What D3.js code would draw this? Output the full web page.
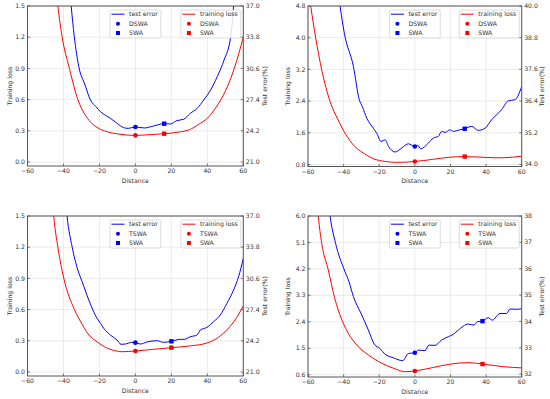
<!DOCTYPE html>
<html lang="en">
<head>
<meta charset="UTF-8">
<title>Loss and test error along distance</title>
<style>
    html, body { margin: 0; padding: 0; background: #fff; }
    svg { display: block; font-family: "DejaVu Sans", sans-serif; }
</style>
</head>
<body>
<svg id="chart" width="550" height="399"></svg>
<script src="https://cdnjs.cloudflare.com/ajax/libs/d3/7.8.5/d3.min.js"></script>
<script>
"use strict"

const distTicks = [-60, -40, -20, 0, 20, 40, 60];

// panel a (top left)
const aLossTicks = [0.0, 0.3, 0.6, 0.9, 1.2, 1.5];
const aErrTicks = [21.0, 24.2, 27.4, 30.6, 33.8, 37.0];
const aLoss = [[-45, 1.85], [-43.1, 1.5], [-40.7, 1.2], [-36.7, 0.9], [-32, 0.6], [-28, 0.455], [-25, 0.385], [-22, 0.34],
    [-19.4, 0.314], [-15, 0.287], [-10, 0.27], [-5, 0.26], [0, 0.256], [8, 0.263], [16, 0.272], [25, 0.29], [30, 0.31],
    [35, 0.36], [40, 0.42], [45, 0.53], [50, 0.68], [55, 0.9], [60, 1.2]];
const aErr = [[-37, 40], [-35.7, 37.0], [-34, 33.9], [-31.5, 30.8], [-28, 28.9], [-25, 27.36], [-22, 26.68], [-19.4, 26.16],
    [-13.9, 25.48], [-10.2, 24.97], [-6.5, 24.52], [-4, 24.45], [0, 24.59], [5, 24.49], [10, 24.69], [16, 24.93],
    [19.4, 24.9], [23, 25.24], [26.8, 25.38], [30.5, 25.99], [34.3, 26.5], [38, 27.36], [41.8, 28.38], [45.5, 29.75],
    [49.3, 31.46], [53, 33.85], [54.6, 37.0], [55.5, 40]];
const aLossMarks = [[0, 0.256], [16, 0.272]];
const aErrMarks = [[0, 24.59], [16, 24.93]];

// panel b (top right)
const bLossTicks = [0.8, 1.6, 2.4, 3.2, 4.0, 4.8];
const bErrTicks = [34.0, 35.2, 36.4, 37.6, 38.8, 40.0];
const bLoss = [[-60, 5.25], [-58.5, 4.8], [-55.7, 4.0], [-52.3, 3.19], [-47.6, 2.39], [-43, 1.92], [-39.2, 1.59],
    [-33.6, 1.25], [-28.9, 1.09], [-22.4, 0.93], [-17, 0.88], [-11, 0.855], [-5, 0.86], [0, 0.876], [10, 0.93],
    [20, 0.985], [27.8, 1.0], [35, 0.99], [45, 0.97], [50, 0.972], [60, 1.01]];
const bErr = [[-43, 40.5], [-42, 40], [-39.6, 38.97], [-34.5, 37.71], [-31.2, 36.45], [-29.5, 36.19], [-27, 35.75],
    [-23.3, 35.37], [-21.4, 35.18], [-19, 34.87], [-16.7, 34.93], [-14.8, 34.68], [-11, 34.47], [-7.4, 34.62],
    [-3.6, 34.78], [0, 34.68], [1.6, 34.72], [3.3, 34.59], [7.6, 34.81], [10.4, 35.0], [13.2, 35.06], [15, 35.25],
    [17, 35.21], [19.7, 35.31], [21.6, 35.25], [25.3, 35.31], [27.8, 35.35], [31.9, 35.44], [35.6, 35.29],
    [39.4, 35.37], [43.1, 35.69], [48.7, 36.07], [52.5, 36.41], [56.2, 36.45], [60, 36.95]];
const bLossMarks = [[0, 0.876], [28, 1.0]];
const bErrMarks = [[0, 34.68], [28, 35.35]];

// panel c (bottom left)
const cLossTicks = [0.0, 0.3, 0.6, 0.9, 1.2, 1.5];
const cErrTicks = [21.0, 24.2, 27.4, 30.6, 33.8, 37.0];
const cLoss = [[-46.5, 1.75], [-45.4, 1.5], [-43.1, 1.2], [-39.8, 0.9], [-33.9, 0.6], [-30, 0.47], [-26.5, 0.37],
    [-21.3, 0.29], [-15.7, 0.23], [-10, 0.2], [-7.4, 0.195], [0, 0.202], [10, 0.218], [20, 0.234], [30, 0.25],
    [40, 0.28], [45, 0.32], [50, 0.39], [55, 0.49], [60, 0.635]];
const cErr = [[-39, 39], [-38, 37], [-35.2, 33.85], [-32, 31.46], [-29.6, 30.26], [-25.9, 28.38], [-21.3, 26.5],
    [-19.4, 25.99], [-17.6, 25.48], [-13.9, 24.79], [-10.2, 24.28], [-8, 23.84], [-5.6, 23.87], [-1.9, 24.04],
    [0, 24.01], [2.8, 23.87], [6.5, 24.08], [12, 24.21], [15.7, 24.04], [20, 24.15], [25, 24.35], [27, 24.35],
    [30.6, 24.62], [34.3, 24.79], [36.1, 25.31], [39.8, 25.58], [43.5, 26.16], [47.2, 26.85], [50.9, 28.04],
    [54.6, 29.41], [57.4, 30.78], [60, 32.66]];
const cLossMarks = [[0, 0.202], [20, 0.234]];
const cErrMarks = [[0, 24.01], [20, 24.15]];

// panel d (bottom right)
const dLossTicks = [0.6, 1.5, 2.4, 3.3, 4.2, 5.1, 6.0];
const dErrTicks = [32, 33, 34, 35, 36, 37, 38];
const dLoss = [[-55, 6.6], [-54.2, 6.0], [-52.3, 5.07], [-48.6, 4.16], [-45.2, 3.25], [-40.2, 2.35], [-37.4, 2.01],
    [-31.7, 1.55], [-26.1, 1.27], [-18.6, 0.99], [-12.1, 0.82], [-5.5, 0.7], [0, 0.725], [10, 0.84], [20, 0.96],
    [30, 1.01], [38, 0.96], [50, 0.87], [60, 0.83]];
const dErr = [[-48.5, 38.5], [-47.6, 38], [-44.5, 36.96], [-39.6, 35.95], [-37, 35.51], [-34.5, 34.94], [-30.2, 34.3],
    [-26.1, 33.67], [-22.8, 33.14], [-19.6, 32.97], [-16.8, 32.76], [-12.1, 32.62], [-6.8, 32.51], [-3.7, 32.78],
    [0, 32.81], [1.9, 32.91], [5.7, 32.89], [7.9, 33.1], [11.3, 33.09], [15, 33.29], [18.8, 33.42], [21.6, 33.51],
    [24.4, 33.67], [30, 33.9], [33.2, 33.86], [35.1, 33.99], [38, 34.01], [41.2, 34.14], [43.5, 34.05], [47.8, 34.3],
    [51.5, 34.3], [53.4, 34.47], [57.2, 34.46], [60, 34.48]];
const dLossMarks = [[0, 0.725], [38, 0.96]];
const dErrMarks = [[0, 32.81], [38, 34.01]];

const panels = [
    {id: "a", x0: 27.5, x1: 243.3, y0: 6, y1: 166, lossDom: [-0.0385, 1.5], errDom: [20.59, 37.0],
        lossTicks: aLossTicks, errTicks: aErrTicks, errFmt: ".1f", loss: aLoss, err: aErr,
        lossMarks: aLossMarks, errMarks: aErrMarks, method: "DSWA", yl: 10, yr: 265},
    {id: "b", x0: 308, x1: 521.7, y0: 6, y1: 166.5, lossDom: [0.75, 4.8], errDom: [33.92, 40.0],
        lossTicks: bLossTicks, errTicks: bErrTicks, errFmt: ".1f", loss: bLoss, err: bErr,
        lossMarks: bLossMarks, errMarks: bErrMarks, method: "DSWA", yl: 288, yr: 542},
    {id: "c", x0: 27.5, x1: 243.3, y0: 216, y1: 376, lossDom: [-0.0385, 1.5], errDom: [20.59, 37.0],
        lossTicks: cLossTicks, errTicks: cErrTicks, errFmt: ".1f", loss: cLoss, err: cErr,
        lossMarks: cLossMarks, errMarks: cErrMarks, method: "TSWA", yl: 10, yr: 265},
    {id: "d", x0: 308, x1: 521.7, y0: 216, y1: 377, lossDom: [0.52, 6.0], errDom: [31.89, 38.0],
        lossTicks: dLossTicks, errTicks: dErrTicks, errFmt: "d", loss: dLoss, err: dErr,
        lossMarks: dLossMarks, errMarks: dErrMarks, method: "TSWA", yl: 288, yr: 542}
];

const svg = d3.select("#chart");
const spine = "#555";
const fs = 6.2;
const tickLen = 2.5;

function drawPanel(p) {
    const x = d3.scaleLinear().domain([-60, 60]).range([p.x0, p.x1]);
    const yL = d3.scaleLinear().domain(p.lossDom).range([p.y1, p.y0]);
    const yR = d3.scaleLinear().domain(p.errDom).range([p.y1, p.y0]);
    const g = svg.append("g");

    g.append("clipPath").attr("id", "clip-" + p.id)
        .append("rect")
        .attr("x", p.x0).attr("y", p.y0)
        .attr("width", p.x1 - p.x0).attr("height", p.y1 - p.y0);

    // grid
    g.append("g").selectAll("line").data(distTicks).join("line")
        .attr("x1", d => x(d)).attr("x2", d => x(d))
        .attr("y1", p.y0).attr("y2", p.y1)
        .attr("stroke", "#e3e3e3").attr("stroke-width", 0.7);
    g.append("g").selectAll("line").data(p.lossTicks).join("line")
        .attr("x1", p.x0).attr("x2", p.x1)
        .attr("y1", d => yL(d)).attr("y2", d => yL(d))
        .attr("stroke", "#e3e3e3").attr("stroke-width", 0.7);

    // curves
    const plot = g.append("g").attr("clip-path", "url(#clip-" + p.id + ")");
    const lineL = d3.line().x(d => x(d[0])).y(d => yL(d[1])).curve(d3.curveMonotoneX);
    const lineR = d3.line().x(d => x(d[0])).y(d => yR(d[1])).curve(d3.curveMonotoneX);
    plot.append("path").datum(p.err).attr("d", lineR)
        .attr("fill", "none").attr("stroke", "#0000ff").attr("stroke-width", 1);
    plot.append("path").datum(p.loss).attr("d", lineL)
        .attr("fill", "none").attr("stroke", "#ff0000").attr("stroke-width", 1);

    // markers: first is the averaged method (circle), second SWA (square)
    const markers = [[p.errMarks, yR, "#0000ff"], [p.lossMarks, yL, "#ff0000"]];
    markers.forEach(([pts, ys, col]) => {
        g.append("circle").attr("cx", x(pts[0][0])).attr("cy", ys(pts[0][1]))
            .attr("r", 2.3).attr("fill", col);
        g.append("rect").attr("x", x(pts[1][0]) - 2.2).attr("y", ys(pts[1][1]) - 2.2)
            .attr("width", 4.4).attr("height", 4.4).attr("fill", col);
    });

    // frame
    g.append("rect").attr("x", p.x0).attr("y", p.y0)
        .attr("width", p.x1 - p.x0).attr("height", p.y1 - p.y0)
        .attr("fill", "none").attr("stroke", spine).attr("stroke-width", 1);

    // ticks and labels
    const fx = d3.format("d");
    const fl = d3.format(".1f");
    const fr = d3.format(p.errFmt);
    g.append("g").selectAll("line").data(distTicks).join("line")
        .attr("x1", d => x(d)).attr("x2", d => x(d))
        .attr("y1", p.y1).attr("y2", p.y1 - tickLen)
        .attr("stroke", spine).attr("stroke-width", 0.8);
    g.append("g").selectAll("text").data(distTicks).join("text")
        .attr("x", d => x(d)).attr("y", p.y1 + 2.6).attr("dy", "0.71em")
        .attr("text-anchor", "middle").attr("font-size", fs).attr("fill", "#333")
        .text(d => fx(d));
    g.append("g").selectAll("line").data(p.lossTicks).join("line")
        .attr("x1", p.x0).attr("x2", p.x0 + tickLen)
        .attr("y1", d => yL(d)).attr("y2", d => yL(d))
        .attr("stroke", spine).attr("stroke-width", 0.8);
    g.append("g").selectAll("text").data(p.lossTicks).join("text")
        .attr("x", p.x0 - 2.5).attr("y", d => yL(d)).attr("dy", "0.34em")
        .attr("text-anchor", "end").attr("font-size", fs).attr("fill", "#333")
        .text(d => fl(d));
    g.append("g").selectAll("line").data(p.errTicks).join("line")
        .attr("x1", p.x1).attr("x2", p.x1 - tickLen)
        .attr("y1", d => yR(d)).attr("y2", d => yR(d))
        .attr("stroke", spine).attr("stroke-width", 0.8);
    g.append("g").selectAll("text").data(p.errTicks).join("text")
        .attr("x", p.x1 + 2.5).attr("y", d => yR(d)).attr("dy", "0.34em")
        .attr("text-anchor", "start").attr("font-size", fs).attr("fill", "#333")
        .text(d => fr(d));

    // axis titles
    const cy = (p.y0 + p.y1) / 2;
    g.append("text").attr("transform", `translate(${(p.x0 + p.x1) / 2},${p.y1 + 16.5})`)
        .attr("text-anchor", "middle").attr("font-size", fs).attr("fill", "#333").text("Distance");
    g.append("text").attr("transform", `translate(${p.yl},${cy}) rotate(-90)`)
        .attr("text-anchor", "middle").attr("dy", "0.35em")
        .attr("font-size", fs).attr("fill", "#333").text("Training loss");
    g.append("text").attr("transform", `translate(${p.yr},${cy}) rotate(-90)`)
        .attr("text-anchor", "middle").attr("dy", "0.35em")
        .attr("font-size", fs).attr("fill", "#333").text("Test error(%)");

    // legends
    drawLegend(g, p, "#0000ff", "test error", "center");
    drawLegend(g, p, "#ff0000", "training loss", "right");
}

function drawLegend(g, p, col, title, where) {
    const labels = [title, p.method, "SWA"];
    const lg = g.append("g");
    const box = lg.append("rect");
    const texts = lg.selectAll("text").data(labels).join("text")
        .attr("font-size", fs).attr("fill", "#333").attr("dy", "0.35em")
        .text(d => d);
    let tw = 0;
    texts.each(function () { tw = Math.max(tw, this.getComputedTextLength()); });
    const w = 19 + tw + 3;
    const h = 28;
    const bx = where === "right" ? p.x1 - 2.5 - w : (p.x0 + p.x1) / 2 - w / 2;
    const by = p.y0 + 4;
    box.attr("x", bx).attr("y", by).attr("width", w).attr("height", h)
        .attr("rx", 1.5).attr("fill", "rgba(255,255,255,0.85)")
        .attr("stroke", "#cccccc").attr("stroke-width", 0.7);
    const rowY = [by + 4.2, by + 13.7, by + 23];
    texts.attr("x", bx + 19).attr("y", (d, i) => rowY[i]);
    lg.append("line").attr("x1", bx + 1.5).attr("x2", bx + 14.5)
        .attr("y1", rowY[0]).attr("y2", rowY[0])
        .attr("stroke", col).attr("stroke-width", 1);
    lg.append("circle").attr("cx", bx + 8).attr("cy", rowY[1]).attr("r", 2).attr("fill", col);
    lg.append("rect").attr("x", bx + 6).attr("y", rowY[2] - 2).attr("width", 4).attr("height", 4).attr("fill", col);
}

panels.forEach(drawPanel);
</script>
</body>
</html>
